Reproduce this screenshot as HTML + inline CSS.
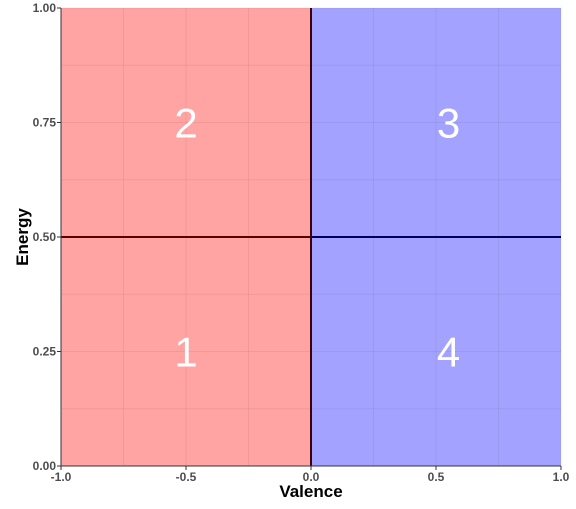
<!DOCTYPE html>
<html><head><meta charset="utf-8"><style>
body{margin:0;background:#fff}
svg text{font-family:"Liberation Sans",sans-serif}
</style></head><body>
<svg id="chart" width="576" height="504" xmlns="http://www.w3.org/2000/svg"></svg>
<script>
const quadLabels=["1","2","3","4"];
const quadX0=[-1,-1,0,0];
const quadX1=[0,0,1,1];
const quadY0=[0,0.5,0.5,0];
const quadY1=[0.5,1,1,0.5];
const labelX=[-0.5,-0.5,0.55,0.55];
const labelY=[0.25,0.75,0.75,0.25];
const quadFill=["#ffa3a3","#ffa3a3","#a3a3ff","#a3a3ff"];
const xTicks=[-1,-0.5,0,0.5,1];
const xTickLabels=["-1.0","-0.5","0.0","0.5","1.0"];
const yTicks=[0,0.25,0.5,0.75,1];
const yTickLabels=["0.00","0.25","0.50","0.75","1.00"];
const xMinor=[-0.75,-0.25,0.25,0.75];
const yMinor=[0.125,0.375,0.625,0.875];

const L=61,R=561,T=8,B=466;
const sx=v=>L+(v+1)/2*(R-L);
const sy=v=>B-v*(B-T);
const svg=document.getElementById('chart');
const NS="http://www.w3.org/2000/svg";
function mk(tag,attrs,parent){const e=document.createElementNS(NS,tag);for(const k in attrs)e.setAttribute(k,attrs[k]);(parent||svg).appendChild(e);return e;}

quadLabels.forEach((lab,i)=>{
  const r=mk('rect',{x:sx(quadX0[i]),y:sy(quadY1[i]),width:sx(quadX1[i])-sx(quadX0[i]),height:sy(quadY0[i])-sy(quadY1[i]),fill:quadFill[i]});
  
  
});
const grid=mk('g',{stroke:'rgba(0,0,0,0.06)','stroke-width':1});


xTicks.concat(xMinor).forEach(v=>mk('line',{x1:sx(v),x2:sx(v),y1:T,y2:B},grid));
yTicks.concat(yMinor).forEach(v=>mk('line',{x1:L,x2:R,y1:sy(v),y2:sy(v)},grid));
quadLabels.forEach((lab,i)=>{
  const t=mk('text',{x:sx(labelX[i]),y:sy(labelY[i])+15,'text-anchor':'middle','font-size':42,fill:'#fff'});
  t.textContent=lab;
  
  
});
let l=mk('line',{x1:L,x2:sx(0),y1:sy(0.5),y2:sy(0.5),stroke:'#5a0000','stroke-width':2});

l=mk('line',{x1:sx(0),x2:R,y1:sy(0.5),y2:sy(0.5),stroke:'#00005a','stroke-width':2});

l=mk('line',{x1:sx(0),x2:sx(0),y1:T,y2:B,stroke:'#3a0010','stroke-width':2});

const ax=mk('path',{d:`M${L},${T}V${B}H${R}`,fill:'none',stroke:'#333','stroke-width':1});

xTicks.forEach((v,i)=>{
  mk('line',{x1:sx(v),x2:sx(v),y1:B,y2:B+4,stroke:'#333'});
  const t=mk('text',{x:sx(v),y:B+15,'text-anchor':'middle','font-size':12,'font-weight':'bold',fill:'#4d4d4d'});
  t.textContent=xTickLabels[i];
  
});
yTicks.forEach((v,i)=>{
  mk('line',{x1:L-4,x2:L,y1:sy(v),y2:sy(v),stroke:'#333'});
  const t=mk('text',{x:L-5,y:sy(v)+4,'text-anchor':'end','font-size':12,'font-weight':'bold',fill:'#4d4d4d'});
  t.textContent=yTickLabels[i];
  
});
let t=mk('text',{x:sx(0),y:497,'text-anchor':'middle','font-size':17,'font-weight':'bold',fill:'#000'});
t.textContent='Valence';
t=mk('text',{x:0,y:0,'text-anchor':'middle','font-size':17,'font-weight':'bold',fill:'#000',transform:`translate(28,${sy(0.5)}) rotate(-90)`});
t.textContent='Energy';
</script>
</body></html>
